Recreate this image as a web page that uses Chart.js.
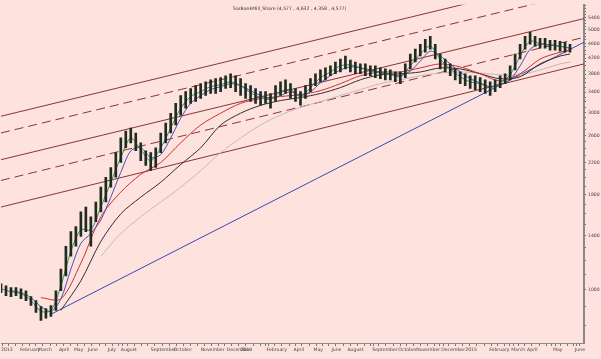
<!DOCTYPE html>
<html><head><meta charset="utf-8">
<script src="https://cdn.jsdelivr.net/npm/chart.js@4.4.1/dist/chart.umd.min.js"></script>
<style>html,body{margin:0;padding:0;background:rgb(253,226,221);}#wrap{width:601px;height:359px;}</style>
</head><body><div id="wrap"><canvas id="c" width="601" height="359"></canvas></div>
<script>
// ---- data (trading-day index on x, price on y) ----
const chartTitle = "SarBankMill_Share (4,577 , 4,632 , 4,358 , 4,577)";
const barX = [0,5,10,15,20,25,30,35,40,45,50,55,60,65,70,75,80,85,90,95,100,105,110,115,120,125,130,135,140,145,150,155,160,165,170,175,180,185,190,195,200,205,210,215,220,225,230,235,240,245,250,255,260,265,270,275,280,285,290,295,300,305,310,315,320,325,330,335,340,345,350,355,360,365,370,375,380,385,390,395,400,405,410,415,420,425,430,435,440,445,450,455,460,465,470,475,480,485,490,495,500,505,510,515,520,525,530,535,540,545,550,555,560,565,570];
const barHigh = [1038,1025,1013,1013,1006,994,958,935,901,890,907,994,1137,1309,1434,1478,1620,1670,1571,1722,1888,2007,2133,2338,2562,2673,2724,2641,2485,2366,2338,2410,2641,2808,2985,3173,3332,3412,3478,3542,3585,3628,3671,3697,3720,3765,3811,3765,3697,3585,3542,3478,3412,3412,3372,3542,3628,3671,3585,3478,3412,3542,3697,3811,3905,3954,4002,4100,4177,4254,4148,4100,4051,4051,4002,4002,3954,3930,3905,3857,3857,4051,4306,4440,4577,4720,4808,4577,4306,4177,4051,3930,3857,3811,3765,3765,3720,3671,3628,3671,3765,3811,4002,4306,4577,4808,4924,4808,4749,4749,4691,4691,4659,4632,4577];
const barLow = [982,964,958,964,946,935,907,869,827,838,848,880,994,1089,1231,1309,1391,1434,1309,1524,1620,1722,1888,2007,2199,2410,2485,2366,2226,2159,2093,2133,2338,2485,2641,2774,2949,3078,3173,3211,3271,3332,3372,3372,3412,3478,3499,3412,3332,3271,3211,3173,3135,3173,3078,3211,3332,3372,3271,3211,3135,3271,3412,3542,3628,3671,3765,3811,3857,3930,3857,3811,3811,3765,3765,3720,3697,3671,3671,3628,3585,3720,3930,4100,4254,4358,4440,4177,3930,3857,3765,3671,3585,3542,3478,3453,3412,3372,3332,3412,3499,3585,3671,3905,4177,4440,4577,4522,4467,4467,4412,4412,4385,4358,4358];

const maGreenX = [0,10,20,30,40,50,60,70,80,90,100,110,120,130,140,150,160,170,180,190,200,210,220,230,240,250,260,270,280,290,300,310,320,330,340,350,360,370,380,390,400,410,420,430,440,450,460,470,480,490,500,510,520,530,540,550,560,570];
const maGreen = [1005,988,976,935,875,880,1025,1269,1450,1450,1669,1946,2267,2560,2379,2224,2409,2722,3076,3310,3410,3519,3563,3625,3541,3388,3290,3249,3410,3454,3310,3498,3718,3853,4002,4026,3952,3878,3829,3788,3741,4002,4306,4521,4175,3927,3741,3625,3585,3498,3602,3788,4253,4658,4599,4549,4521,4465];
const maBlueX = [10,20,30,40,50,60,70,80,90,100,110,120,130,140,150,160,170,180,190,200,210,220,230,240,250,260,270,280,290,300,310,320,330,340,350,360,370,380,390,400,410,420,430,440,450,460,470,480,490,500,510,520,530,540,550,560,570];
const maBlue = [994,982,952,901,875,945,1136,1333,1417,1541,1775,2069,2364,2409,2267,2309,2560,2894,3173,3331,3454,3519,3585,3541,3432,3331,3269,3331,3410,3331,3410,3602,3765,3903,3977,3952,3903,3853,3811,3765,3878,4122,4382,4253,4051,3853,3695,3602,3519,3563,3672,4002,4437,4577,4549,4521,4465];
const maRedX = [40,60,80,100,120,140,160,180,200,220,240,260,280,300,320,340,360,380,400,420,440,460,480,500,520,540,560,570];
const maRed = [952,945,1179,1571,1831,2044,2199,2485,2774,2985,3173,3269,3310,3351,3432,3585,3765,3853,3853,3952,4051,3977,3811,3648,3811,4175,4354,4409];
const maBlackX = [60,80,100,120,140,160,180,200,220,240,260,280,300,320,340,360,380,400,420,440,460,480,500,520,540,560,570];
const maBlack = [880,1057,1349,1600,1775,1946,2172,2409,2774,2985,3134,3228,3290,3372,3498,3672,3788,3811,3853,3952,3927,3811,3695,3741,4051,4253,4306];
const maGrayX = [100,120,140,160,180,200,220,240,260,280,300,320,340,360,380,400,420,440,460,480,500,520,540,560,570];
const maGray = [1230,1417,1571,1722,1888,2092,2338,2560,2774,2949,3096,3207,3331,3454,3585,3672,3765,3829,3853,3829,3788,3788,3903,4051,4096];

// channel lines [x0, x1] and [value0, value1]
const channelX = [0, 584];
const chanSolid1 = [2930, 7019];
const chanDash1 = [2641, 6327];
const chanSolid2 = [2238, 5364];
const chanDash2 = [1968, 4777];
const chanSolid3 = [1669, 4051];
const trendX = [50, 584];
const trendVals = [859, 4633];

const monthTickPos = [0,19,37,58,73,87,107,120,150,173,200,226,240,266,293,313,331,347,372,398,416,441,465,489,511,527,553,575];
const monthTickLabels = ["2013","February","March","April","May","June","July","August","September","October","November","December","2014","February","April","May","June","August","September","October","November","December","2015","February","March","April","May","June"];
const yMinorTicks = [800,900,1000,1100,1200,1300,1400,1500,1600,1700,1800,1900,2000,2100,2200,2300,2400,2500,2600,2700,2800,2900,3000,3100,3200,3300,3400,3500,3600,3700,3800,3900,4000,4100,4200,4300,4400,4500,4600,4700,4800,4900,5000,5100,5200,5300,5400,5500,5600,5700,5800];
const yLabelTicks = [1000,1400,1800,2200,2600,3000,3400,3800,4200,4600,5000,5400];

// ---- build ----
const pts = (xs, ys) => xs.map((x, i) => ({x: x, y: ys[i]}));
const lineDs = (data, color, width, dash, order, tension) => ({
  type: 'line', data: data, borderColor: color, borderWidth: width, borderDash: dash || [],
  pointRadius: 0, fill: false, tension: tension || 0, order: order
});
// weekly minor tick marks on the time axis (unlabelled)
const xTickValues = monthTickPos.slice();
for (let t = 4; t < 584; t += 7) {
  if (monthTickPos.every(m => Math.abs(m - t) > 2)) xTickValues.push(t);
}
xTickValues.sort((a, b) => a - b);

const bgPlugin = {
  id: 'bg',
  beforeDraw(chart) {
    const c = chart.ctx;
    c.save(); c.fillStyle = 'rgb(253,226,221)'; c.fillRect(0, 0, chart.width, chart.height); c.restore();
  },
  afterDraw(chart) {
    const c = chart.ctx;
    c.save(); c.fillStyle = '#333'; c.font = '4.6px "DejaVu Sans"'; c.textAlign = 'left'; c.textBaseline = 'middle';
    c.fillText(chartTitle, 233, 9); c.restore();
  }
};

new Chart(document.getElementById('c'), {
  type: 'bar',
  data: {
    datasets: [
      { type: 'bar', data: barX.map((x, i) => ({x: x, y: [barLow[i], barHigh[i]]})), backgroundColor: '#1f2c22', barThickness: 2, order: 0 },
      lineDs(pts(maGreenX, maGreen), '#2a9a4a', 1, null, 1, 0.3),
      lineDs(pts(maBlueX, maBlue), '#4a50c0', 1, null, 2, 0.3),
      lineDs(pts(maRedX, maRed), '#d03030', 1, null, 3, 0.3),
      lineDs(pts(maBlackX, maBlack), '#303030', 1, null, 4, 0.3),
      lineDs(pts(maGrayX, maGray), '#c4baba', 1, null, 5, 0.3),
      lineDs(pts(channelX, chanSolid1), '#8a3535', 1, null, 6),
      lineDs(pts(channelX, chanDash1), '#8a3535', 1, [9, 5], 6),
      lineDs(pts(channelX, chanSolid2), '#8a3535', 1, null, 6),
      lineDs(pts(channelX, chanDash2), '#8a3535', 1, [9, 5], 6),
      lineDs(pts(channelX, chanSolid3), '#8a3535', 1, null, 6),
      lineDs(pts(trendX, trendVals), '#3a48b8', 1, null, 6)
    ]
  },
  options: {
    responsive: false, animation: false, events: [],
    layout: { padding: 0 },
    plugins: { legend: { display: false }, tooltip: { enabled: false }, title: { display: false } },
    scales: {
      x: {
        type: 'linear', min: 0, max: 584, offset: false,
        grid: { drawOnChartArea: false, drawTicks: true, tickLength: 3, color: '#777' },
        border: { display: true, color: '#8a8a8a', width: 1 },
        ticks: { autoSkip: false, maxRotation: 0, align: 'start', padding: 1, color: '#444',
                 font: { size: 4.6, family: 'DejaVu Sans' },
                 callback: (v) => { const i = monthTickPos.indexOf(v); return i >= 0 ? monthTickLabels[i] : ''; } },
        afterBuildTicks: (s) => { s.ticks = xTickValues.map(v => ({value: v})); },
        afterFit: (s) => { s.height = 16; }
      },
      y: {
        type: 'logarithmic', position: 'right', min: 719, max: 5844,
        grid: { drawOnChartArea: false, drawTicks: true, tickLength: 2, color: '#666' },
        border: { display: true, color: '#8a8a8a', width: 2 },
        ticks: { autoSkip: false, padding: 2, color: '#444', font: { size: 4.6, family: 'DejaVu Sans' },
                 callback: (v) => yLabelTicks.includes(v) ? String(v) : '' },
        afterBuildTicks: (s) => { s.ticks = yMinorTicks.map(v => ({value: v})); },
        afterFit: (s) => { s.width = 17; }
      }
    }
  },
  plugins: [bgPlugin]
});
</script></body></html>
